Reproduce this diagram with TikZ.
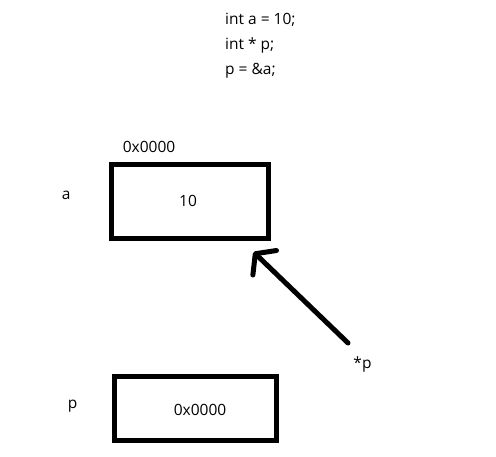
\documentclass[tikz,border=0pt]{standalone}
\usepackage{fontspec}
\setmainfont{Open Sans}
\usetikzlibrary{positioning, arrows.meta}

\begin{document}
\begin{tikzpicture}[x=1pt, y=-1pt,
    cell/.style={draw, line width=5pt, inner sep=0pt},
    txt/.style={font=\fontsize{15.5}{18}\selectfont, inner sep=0pt}]
  \useasboundingbox (0,0) rectangle (496,456);
  % the three lines of code
  \node[txt, anchor=base west] (code1) at (225,24) {int a = 10;};
  \node[txt, anchor=base west] (code2) at (225,49) {int * p;};
  \node[txt, anchor=base west] (code3) at (225,74) {p = \&a;};

  % variable a
  \node[cell, minimum width=156.5pt, minimum height=74pt] (boxa) at (189.75,201.5) {};
  \node[txt, anchor=base] (vala) at (188,206) {10};
  \node[txt, anchor=base] (addra) at (149,152.7) {0x0000};
  \node[txt, anchor=base] (namea) at (66.3,199.3) {a};

  % pointer p
  \node[cell, minimum width=162pt, minimum height=64pt] (boxp) at (195.5,408.5) {};
  \node[txt, anchor=base] (valp) at (200,415.7) {0x0000};
  \node[txt, anchor=base] (namep) at (72.5,408.7) {p};

  % *p points back at a
  \node[txt, anchor=base] (deref) at (362.5,368.3) {*p};
  \coordinate (tail) at (348,343);
  \coordinate[below left=11pt and 17pt of boxa.south east] (tip);
  \draw[line width=5pt, line cap=round, line join=round,
        -{Straight Barb[length=13pt, width=34pt, line cap=round, line join=round]}]
    (tail) -- (tip);
\end{tikzpicture}
\end{document}
